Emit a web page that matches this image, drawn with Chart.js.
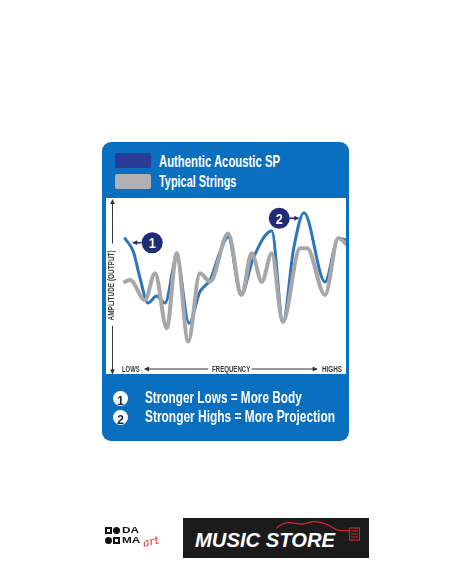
<!DOCTYPE html>
<html>
<head>
<meta charset="utf-8">
<script src="https://cdn.jsdelivr.net/npm/chart.js@4/dist/chart.umd.min.js"></script>
<style>
  html, body { margin: 0; padding: 0; background: #fff; }
  body { width: 452px; height: 584px; position: relative; overflow: hidden; font-family: "Liberation Sans", Arial, sans-serif; }
  .abs { position: absolute; }
  .t { position: absolute; white-space: nowrap; line-height: 1; font-weight: bold; transform-origin: 0 0; }
  #card { left: 102px; top: 142px; width: 247px; height: 299px; border-radius: 9px; background: #0b6fbf; }
  #panel { left: 106px; top: 198px; width: 240px; height: 176px; background: #fff; }
  .sw { width: 36px; height: 15px; border-radius: 2px; }
  .num { width: 15px; height: 15px; border-radius: 50%; background: #fff; }
  .sq { width: 3px; height: 3px; border: 2px solid #111; }
  .dot { width: 7px; height: 7px; border-radius: 50%; background: #111; }
</style>
</head>
<body>

<div id="card" class="abs"></div>
<div class="abs sw" style="left:115px; top:153px; background:#2b3a96;"></div>
<div class="abs sw" style="left:115px; top:173.5px; height:15.5px; background:#b2b0b2;"></div>
<span class="t" data-w="121" style="left:159.3px; top:152.9px; font-size:16.3px; color:#fff;">Authentic Acoustic SP</span>
<span class="t" data-w="77.4" style="left:159.3px; top:172.9px; font-size:16.3px; color:#fff;">Typical Strings</span>

<div id="panel" class="abs"><canvas id="chart"></canvas></div>
<span class="t" data-w="17.6" style="left:121.7px; top:364.9px; font-size:8.8px; color:#3a3a3a;">LOWS</span>
<span class="t" data-w="38.3" style="left:211.7px; top:364.9px; font-size:8.8px; color:#3a3a3a;">FREQUENCY</span>
<span class="t" data-w="20" style="left:321.7px; top:364.9px; font-size:8.8px; color:#3a3a3a;">HIGHS</span>
<span class="t" id="ylab" data-w="70" style="font-size:8.8px; color:#3a3a3a;">AMPLITUDE (OUTPUT)</span>

<div class="abs num" style="left:113.2px; top:391.3px;"></div>
<div class="abs num" style="left:113.2px; top:410.3px;"></div>
<span class="t" data-w="7" style="left:117.2px; top:393.5px; font-size:13px; color:#1d2747;">1</span>
<span class="t" data-w="7" style="left:117.2px; top:412.5px; font-size:13px; color:#1d2747;">2</span>
<span class="t" data-w="156.7" style="left:145px; top:390.1px; font-size:16.76px; color:#fff;">Stronger Lows = More Body</span>
<span class="t" data-w="190" style="left:145px; top:409.1px; font-size:16.76px; color:#fff;">Stronger Highs = More Projection</span>

<!-- logos -->
<div class="abs sq" style="left:105px; top:526.7px;"></div>
<div class="abs dot" style="left:113.3px; top:526.7px;"></div>
<div class="abs dot" style="left:105px; top:536.6px;"></div>
<div class="abs sq" style="left:113.3px; top:536.6px;"></div>
<span class="t" data-w="18.3" style="left:121.7px; top:524.7px; font-size:9px; line-height:10.3px; color:#111;">DA<br>MA</span>
<span class="t" style="left:142px; top:539px; font-size:11px; line-height:0.85; color:#d8262b; font-family:'DejaVu Serif', serif; font-style:italic; font-weight:normal; transform:rotate(-12deg);">art</span>

<div class="abs" style="left:183.3px; top:518.3px; width:185.7px; height:40px; background:#1b1b1b;"></div>
<span class="t" data-w="140" style="left:195px; top:530.4px; font-size:20px; color:#fff; font-style:italic;">MUSIC STORE</span>
<svg class="abs" style="left:183.3px; top:518.3px;" width="186" height="40">
  <path d="M93.5 10.3 C98 6 102 4.5 107 4.7 C112 5 116 6.5 120 6 C124 5.5 128 3.5 132 3.7 C138 4 142 5.5 145 7 C149 9 153 12 157 12.7 L166 12.7"
        fill="none" stroke="#d8262b" stroke-width="1.3"/>
  <rect x="166.5" y="10" width="10" height="12" fill="none" stroke="#d8262b" stroke-width="1.1"/>
  <path d="M168 13 H175 M168 16 H175 M168 19 H175" stroke="#d8262b" stroke-width="1"/>
</svg>

<script>
// Frequency (0 = lows, 100 = highs) and amplitude (0..100)
const freqAuthentic = [0, 3.8, 6.8, 10.4, 14.3, 18.1, 23.4, 29, 33.9, 38.5, 43, 46.7, 52.5, 58, 66.4, 71.5, 76.2, 81, 90.5, 96.5, 100.5];
const ampAuthentic  = [77, 69.5, 54.5, 40.3, 44.3, 40.3, 66, 28.8, 46.8, 53.4, 69.3, 77.8, 44.9, 65.7, 81.3, 29.5, 70.5, 91.6, 52.3, 77.1, 76.1];

const freqTypical = [0, 2.3, 9, 13.6, 18.9, 23.4, 28.6, 33.9, 38.5, 46.7, 52.8, 57.3, 61.9, 66.4, 71.4, 79.2, 82.4, 90.5, 96.5, 101.4];
const ampTypical  = [52.4, 53.4, 42, 57.2, 26, 68.6, 18.4, 57.2, 52.4, 79.9, 44.9, 68.6, 52.4, 68.6, 29.5, 71.4, 71.4, 44.9, 77.1, 72.3];

const seriesNames = ["Authentic Acoustic SP", "Typical Strings"];

// numbered call-outs (anchored in data units)
const calloutLabels = ["1", "2"];
const calloutFreq = [12.3, 69.8];
const calloutAmp = [74.6, 88.5];
const calloutDir = [-1, 1];

function toPoints(xs, ys) {
  return xs.map((x, i) => ({ x: x, y: ys[i] }));
}

function arrowLine(ctx, x1, y1, x2, y2, head) {
  ctx.beginPath();
  ctx.moveTo(x1, y1);
  ctx.lineTo(x2, y2);
  ctx.stroke();
  const a = Math.atan2(y2 - y1, x2 - x1);
  ctx.beginPath();
  ctx.moveTo(x2 + Math.cos(a) * 1, y2 + Math.sin(a) * 1);
  ctx.lineTo(x2 - Math.cos(a) * head - Math.sin(a) * head * 0.6, y2 - Math.sin(a) * head + Math.cos(a) * head * 0.6);
  ctx.lineTo(x2 - Math.cos(a) * head + Math.sin(a) * head * 0.6, y2 - Math.sin(a) * head - Math.cos(a) * head * 0.6);
  ctx.closePath();
  ctx.fill();
}

const decor = {
  id: "decor",
  afterDatasetsDraw(chart) {
    const ctx = chart.ctx;
    const xs = chart.scales.x, ys = chart.scales.y;
    ctx.save();
    // axis arrows
    ctx.strokeStyle = "#333";
    ctx.fillStyle = "#333";
    ctx.lineWidth = 1;
    arrowLine(ctx, 6.5, 45.5, 6.5, 2, 4);
    arrowLine(ctx, 6.5, 128, 6.5, 175.5, 4);
    arrowLine(ctx, 102.3, 171, 39, 171, 4);
    arrowLine(ctx, 145.7, 171, 210.7, 171, 4);

    // call-outs
    for (let i = 0; i < calloutLabels.length; i++) {
      const px = xs.getPixelForValue(calloutFreq[i]);
      const py = ys.getPixelForValue(calloutAmp[i]);
      const r = 10.5;
      ctx.fillStyle = "#1f2d78";
      ctx.strokeStyle = "#1f2d78";
      ctx.beginPath();
      ctx.arc(px, py, r, 0, Math.PI * 2);
      ctx.fill();
      ctx.lineWidth = 1.5;
      arrowLine(ctx, px + calloutDir[i] * r, py, px + calloutDir[i] * (r + 8.5), py, 4);
      const fs = 15;
      ctx.save();
      ctx.translate(px, py + fs * 0.716 / 2);
      ctx.scale(0.85, 1);
      ctx.fillStyle = "#fff";
      ctx.font = "bold " + fs + "px 'Liberation Sans'";
      ctx.textAlign = "center";
      ctx.fillText(calloutLabels[i], 0, 0);
      ctx.restore();
    }
    ctx.restore();
  }
};

new Chart(document.getElementById("chart"), {
  type: "line",
  data: {
    datasets: [
      {
        label: seriesNames[1],
        data: toPoints(freqTypical, ampTypical),
        borderColor: "#a7a7a7",
        borderWidth: 4,
        order: 0
      },
      {
        label: seriesNames[0],
        data: toPoints(freqAuthentic, ampAuthentic),
        borderColor: "#2d76bd",
        borderWidth: 3,
        order: 1
      }
    ]
  },
  options: {
    responsive: true,
    maintainAspectRatio: false,
    animation: false,
    devicePixelRatio: 1,
    layout: { padding: { left: 19, right: 0, top: 0, bottom: 0 } },
    elements: {
      point: { radius: 0 },
      line: { cubicInterpolationMode: "monotone", borderCapStyle: "round", borderJoinStyle: "round", fill: false }
    },
    datasets: { line: { clip: false } },
    scales: {
      x: { type: "linear", min: 0, max: 100, display: false },
      y: { min: 0, max: 100, display: false }
    },
    plugins: {
      legend: { display: false },
      tooltip: { enabled: false }
    }
  },
  plugins: [decor]
});

// squeeze the text into its condensed width
function fitText() {
  document.querySelectorAll(".t[data-w]").forEach(el => {
    el.style.transform = "none";
    const w = +el.dataset.w;
    const r = el.getBoundingClientRect();
    const s = w / r.width;
    if (el.id === "ylab") {
      const cx = 112.3, cy = 285;
      el.style.left = (cx - r.width / 2) + "px";
      el.style.top = (cy - r.height / 2) + "px";
      el.style.transformOrigin = "50% 50%";
      el.style.transform = "rotate(-90deg) scaleX(" + s + ")";
    } else {
      el.style.transform = "scaleX(" + s + ")";
    }
  });
}
fitText();
document.fonts.ready.then(fitText);
</script>
</body>
</html>
